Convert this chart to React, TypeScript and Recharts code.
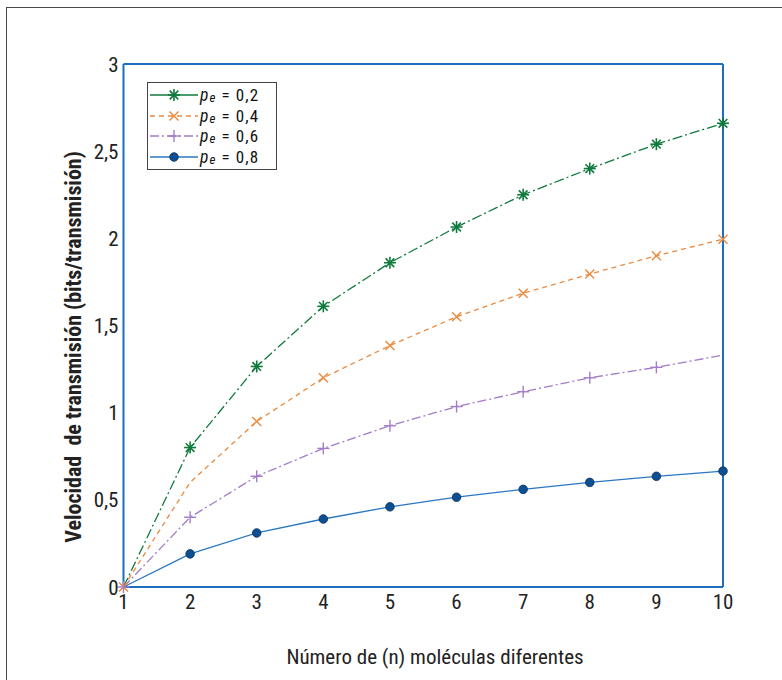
import React from 'react';
import { LineChart, Line, XAxis, YAxis, Legend } from 'recharts';

const nValues = [1, 2, 3, 4, 5, 6, 7, 8, 9, 10];
const pe02 = [0, 0.8, 1.265, 1.61, 1.86, 2.065, 2.25, 2.4, 2.54, 2.66];
const pe04 = [0, 0.6, 0.95, 1.2, 1.385, 1.55, 1.685, 1.795, 1.9, 1.995];
const pe06 = [0, 0.4, 0.635, 0.795, 0.925, 1.035, 1.12, 1.2, 1.26, 1.33];
const pe08 = [0, 0.19, 0.31, 0.39, 0.46, 0.515, 0.56, 0.6, 0.635, 0.665];
const xTicks = [1, 2, 3, 4, 5, 6, 7, 8, 9, 10];
const yTicks = [0, 0.5, 1, 1.5, 2, 2.5, 3];
const legendLabels = ['0,2', '0,4', '0,6', '0,8'];
const xTitle = 'Número de (n) moléculas diferentes';
const yTitle = 'Velocidad  de transmisión (bits/transmisión)';

const data = nValues.map((n, i) => ({ n, a: pe02[i], b: pe04[i], c: pe06[i], d: pe08[i] }));

const FONT = '"Liberation Sans Narrow", "Roboto Condensed", "Noto Sans", sans-serif';
const AXIS = '#1a6fbf';
const TICK = '#4f95d2';
const TL = 6;
const TICK_FS = 21;

type Kind = 'star' | 'x' | 'plus' | 'dot';

function Marker({ kind, cx, cy, color }: { kind: Kind; cx: number; cy: number; color: string }) {
  if (kind === 'star') {
    const r = 6;
    const d = r * 0.72;
    return (
      <g stroke={color} strokeWidth={1.6}>
        <line x1={cx - r} y1={cy} x2={cx + r} y2={cy} />
        <line x1={cx} y1={cy - r} x2={cx} y2={cy + r} />
        <line x1={cx - d} y1={cy - d} x2={cx + d} y2={cy + d} />
        <line x1={cx - d} y1={cy + d} x2={cx + d} y2={cy - d} />
      </g>
    );
  }
  if (kind === 'x') {
    const r = 4.5;
    return (
      <g stroke={color} strokeWidth={1.4}>
        <line x1={cx - r} y1={cy - r} x2={cx + r} y2={cy + r} />
        <line x1={cx - r} y1={cy + r} x2={cx + r} y2={cy - r} />
      </g>
    );
  }
  if (kind === 'plus') {
    const r = 6;
    return (
      <g stroke={color} strokeWidth={1.4}>
        <line x1={cx - r} y1={cy} x2={cx + r} y2={cy} />
        <line x1={cx} y1={cy - r} x2={cx} y2={cy + r} />
      </g>
    );
  }
  return <circle cx={cx} cy={cy} r={4.3} fill="#0c4f92" stroke="#0d2f5c" strokeWidth={0.8} />;
}

const series = [
  { key: 'a', color: '#0f7a3c', dash: '10 3 2 3', kind: 'star' as Kind, legendDash: undefined, skip: [0] },
  { key: 'b', color: '#ec8a3f', dash: '5 4', kind: 'x' as Kind, legendDash: '5 4', skip: [1] },
  { key: 'c', color: '#a27cc8', dash: '9 3 2 3', kind: 'plus' as Kind, legendDash: '9 3 2 3', skip: [9] },
  { key: 'd', color: '#2a78c2', dash: undefined, kind: 'dot' as Kind, legendDash: undefined, skip: [0] },
];

function makeDot(kind: Kind, color: string, skip: number[]) {
  return (props: any) => {
    const { cx, cy, index } = props;
    if (skip.includes(index) || cx == null || cy == null) return <g key={`m-${index}`} />;
    return (
      <g key={`m-${index}`}>
        <Marker kind={kind} cx={cx} cy={cy} color={color} />
      </g>
    );
  };
}

function LegendBox() {
  return (
    <div
      style={{
        border: '1.5px solid #444',
        background: '#fff',
        width: 130,
        height: 88,
        boxSizing: 'border-box',
        padding: '2px 0 0 0',
        fontFamily: FONT,
      }}
    >
      {series.map((s, i) => (
        <div key={s.key} style={{ display: 'flex', alignItems: 'center', height: 20.5 }}>
          <svg width={52} height={18} style={{ display: 'block' }}>
            <line x1={2} y1={9} x2={50} y2={9} stroke={s.color} strokeWidth={1.3} strokeDasharray={s.legendDash} />
            <Marker kind={s.kind} cx={26} cy={9} color={s.color} />
          </svg>
          <span style={{ fontSize: 17, color: '#111', lineHeight: '16px', whiteSpace: 'nowrap', letterSpacing: 1.1 }}>
            <i style={{ fontSize: 17.5 }}>p</i>
            <sub style={{ fontSize: 13, fontStyle: 'italic', verticalAlign: '-1px', lineHeight: '10px' }}>e</sub>
            {' = '}
            {legendLabels[i]}
          </span>
        </div>
      ))}
    </div>
  );
}

const fmt = (v: number) => String(v).replace('.', ',');

const BottomTick = (props: any) => {
  const { x, y, payload, tickMargin } = props;
  const ay = y - tickMargin;
  return (
    <g>
      <line x1={x} y1={ay} x2={x} y2={ay - TL} stroke={TICK} strokeWidth={1.5} />
      <text x={x} y={y} dy="0.71em" textAnchor="middle" fill="#222" fontSize={TICK_FS} fontFamily={FONT}>
        {payload.value}
      </text>
    </g>
  );
};
const TopTick = (props: any) => {
  const { x, y, tickMargin } = props;
  const ay = y + tickMargin;
  return <line x1={x} y1={ay} x2={x} y2={ay + TL} stroke={TICK} strokeWidth={1.5} />;
};
const LeftTick = (props: any) => {
  const { x, y, payload, tickMargin } = props;
  const ax = x + tickMargin;
  return (
    <g>
      <line x1={ax} y1={y} x2={ax + TL} y2={y} stroke={TICK} strokeWidth={1.5} />
      <text x={x} y={y} dy="0.36em" textAnchor="end" fill="#222" fontSize={TICK_FS} fontFamily={FONT}>
        {fmt(payload.value)}
      </text>
    </g>
  );
};
const RightTick = (props: any) => {
  const { x, y, tickMargin } = props;
  const ax = x - tickMargin;
  return <line x1={ax} y1={y} x2={ax - TL} y2={y} stroke={TICK} strokeWidth={1.5} />;
};

export default function App() {
  return (
    <div style={{ position: 'absolute', left: 0, top: 0, width: 782, height: 680, background: '#fff', overflow: 'hidden' }}>
      <div
        style={{
          position: 'absolute',
          left: 6,
          top: 7,
          width: 800,
          height: 700,
          border: '1.5px solid #4a4a4a',
          boxSizing: 'border-box',
        }}
      />
      <LineChart
        width={782}
        height={680}
        data={data}
        margin={{ top: 54, right: 49, bottom: 53, left: 63.5 }}
        style={{ position: 'absolute', left: 0, top: 0, fontFamily: FONT }}
      >
        <XAxis
          xAxisId="b"
          dataKey="n"
          type="number"
          domain={[1, 10]}
          ticks={xTicks}
          height={40}
          tickSize={0}
          tickMargin={7}
          axisLine={{ stroke: AXIS, strokeWidth: 2 }}
          tickLine={false}
          tick={<BottomTick />}
        />
        <XAxis
          xAxisId="t"
          orientation="top"
          dataKey="n"
          type="number"
          domain={[1, 10]}
          ticks={xTicks}
          height={10}
          tickSize={0}
          tickMargin={4}
          axisLine={{ stroke: AXIS, strokeWidth: 2 }}
          tickLine={false}
          tick={<TopTick />}
        />
        <YAxis
          yAxisId="l"
          type="number"
          domain={[0, 3]}
          ticks={yTicks}
          width={60}
          tickSize={0}
          tickMargin={5}
          axisLine={{ stroke: AXIS, strokeWidth: 2 }}
          tickLine={false}
          tick={<LeftTick />}
        />
        <YAxis
          yAxisId="r"
          orientation="right"
          type="number"
          domain={[0, 3]}
          ticks={yTicks}
          width={10}
          tickSize={0}
          tickMargin={4}
          axisLine={{ stroke: AXIS, strokeWidth: 2 }}
          tickLine={false}
          tick={<RightTick />}
        />
        {series.map((s) => (
          <Line
            key={s.key}
            xAxisId="b"
            yAxisId="l"
            type="linear"
            dataKey={s.key}
            stroke={s.color}
            strokeWidth={1.3}
            strokeDasharray={s.dash}
            dot={makeDot(s.kind, s.color, s.skip)}
            activeDot={false}
            isAnimationActive={false}
          />
        ))}
        <Legend
          layout="vertical"
          align="center"
          verticalAlign="middle"
          content={() => <LegendBox />}
          wrapperStyle={{ position: 'absolute', left: 147, top: 82, width: 130, height: 88 }}
        />
      </LineChart>
      <div
        style={{
          position: 'absolute',
          left: 435,
          top: 657,
          transform: 'translate(-50%, -50%)',
          fontFamily: FONT,
          fontSize: 21,
          color: '#222',
          whiteSpace: 'nowrap',
        }}
      >
        {xTitle}
      </div>
      <div
        style={{
          position: 'absolute',
          left: 73,
          top: 347,
          transform: 'translate(-50%, -50%) rotate(-90deg)',
          fontFamily: FONT,
          fontSize: 22,
          fontWeight: 'bold',
          color: '#222',
          whiteSpace: 'pre',
        }}
      >
        {yTitle}
      </div>
    </div>
  );
}
